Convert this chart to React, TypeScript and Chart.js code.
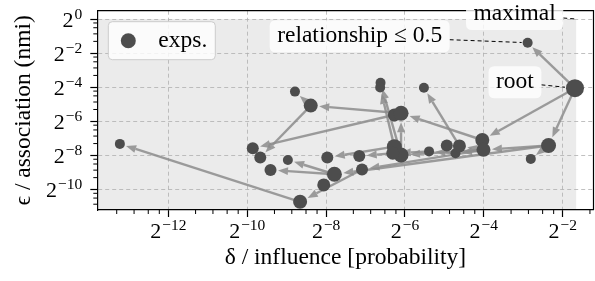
import React, { useEffect, useRef } from "react";
import { Chart, registerables } from "chart.js";

Chart.register(...registerables);

// ---- data (log2 coordinates) ----
const SERIES_LABEL = "exps.";
const DELTA_LOG2 = [
  -13.23, -9.86, -9.67, -9.41, -8.97, -8.79, -8.39, -8.66, -8.06, -7.97,
  -7.79, -7.16, -7.09, -6.62, -6.63, -6.27, -6.10, -6.27, -6.10, -6.31,
  -5.52, -5.39, -4.94, -4.72, -4.62, -4.04, -4.01, -2.36, -2.81, -1.69,
  -2.89,
];
const EPS_LOG2 = [
  -7.33, -7.58, -8.13, -8.86, -8.27, -4.26, -5.08, -10.73, -9.74, -8.13,
  -9.11, -8.04, -8.83, -3.74, -4.02, -5.63, -5.53, -7.49, -7.98, -7.88,
  -4.03, -7.77, -7.42, -7.88, -7.45, -7.10, -7.68, -7.42, -8.21, -4.06,
  -1.39,
];
const RADII = [
  5, 6, 6, 6, 5, 5, 7, 7, 6.5, 6,
  7.5, 6, 6, 5, 5, 6.5, 7.5, 7.5, 7.5, 6.5,
  5, 5, 6, 5, 6.5, 7, 7, 7.5, 5, 9,
  5,
];
// tree edges: parent -> child (indices into the arrays above)
const EDGE_FROM = [29, 29, 29, 27, 27, 27, 25, 26, 26, 24, 24, 26, 23, 18, 18, 16, 16, 16, 6, 6, 17, 18, 17, 10, 10, 10, 12, 7, 19, 26, 21];
const EDGE_TO = [30, 27, 25, 28, 26, 10, 16, 18, 24, 20, 22, 23, 21, 17, 16, 15, 6, 1, 5, 2, 14, 13, 9, 4, 3, 8, 7, 0, 11, 12, 19];

const X_TICK_EXP = [-12, -10, -8, -6, -4, -2];
const Y_TICK_EXP = [0, -2, -4, -6, -8, -10];
const MINOR_OFFSETS = [0.69, 1.13, 1.49, 1.77];
const X_RANGE_LOG2 = [-13.74, -1.22];
const Y_RANGE_LOG2 = [-11.21, 0.49];
const MAXIMAL_LOG2 = [-1.66, 0];
const ROOT_INDEX = 29;
const REL_INDEX = 30;
const X_TITLE = "δ / influence [probability]";
const Y_TITLE = "ϵ / association (nmi)";
const LABEL_ROOT = "root";
const LABEL_REL = "relationship ≤ 0.5";
const LABEL_MAX = "maximal";

const FONT = '"Liberation Serif", "DejaVu Serif", serif';
const TEXT_PX = 23.5;
const BASE_PX = 22;
const EXP_PX = 15.5;
const POINT_COLOR = "#4d4d4d";

function rrect(ctx: CanvasRenderingContext2D, x: number, y: number, w: number, h: number, r: number) {
  ctx.beginPath();
  ctx.moveTo(x + r, y);
  ctx.lineTo(x + w - r, y);
  ctx.quadraticCurveTo(x + w, y, x + w, y + r);
  ctx.lineTo(x + w, y + h - r);
  ctx.quadraticCurveTo(x + w, y + h, x + w - r, y + h);
  ctx.lineTo(x + r, y + h);
  ctx.quadraticCurveTo(x, y + h, x, y + h - r);
  ctx.lineTo(x, y + r);
  ctx.quadraticCurveTo(x, y, x + r, y);
  ctx.closePath();
}

function drawPow(ctx: CanvasRenderingContext2D, e: number, x: number, baseY: number, expY: number, align: "center" | "right") {
  const expStr = e < 0 ? "\u2212" + Math.abs(e) : String(e);
  ctx.font = `${BASE_PX}px ${FONT}`;
  const wb = ctx.measureText("2").width;
  ctx.font = `${EXP_PX}px ${FONT}`;
  const we = ctx.measureText(expStr).width;
  const total = wb + 1 + we;
  const left = align === "center" ? x - total / 2 : x - total;
  ctx.textAlign = "left";
  ctx.textBaseline = "alphabetic";
  ctx.font = `${BASE_PX}px ${FONT}`;
  ctx.fillText("2", left, baseY);
  ctx.font = `${EXP_PX}px ${FONT}`;
  ctx.fillText(expStr, left + wb + 1, expY);
}

const customPlugin = {
  id: "customDraw",
  beforeDraw(chart: any) {
    const { ctx, chartArea: a, scales } = chart;
    ctx.save();
    ctx.fillStyle = "#ffffff";
    ctx.fillRect(0, 0, chart.width, chart.height);
    const xr = scales.x.getPixelForValue(2 ** MAXIMAL_LOG2[0]);
    const yt = scales.y.getPixelForValue(2 ** MAXIMAL_LOG2[1]);
    ctx.fillStyle = "#ebebeb";
    ctx.fillRect(a.left, yt, xr - a.left, a.bottom - yt);
    ctx.restore();
  },
  beforeDatasetsDraw(chart: any) {
    const { ctx } = chart;
    const pts = chart.getDatasetMeta(0).data;
    ctx.save();
    ctx.strokeStyle = "rgba(140,140,140,0.85)";
    ctx.fillStyle = "rgba(140,140,140,0.85)";
    ctx.lineWidth = 2.4;
    for (let k = 0; k < EDGE_FROM.length; k++) {
      const p0 = pts[EDGE_FROM[k]];
      const p1 = pts[EDGE_TO[k]];
      const dx = p1.x - p0.x;
      const dy = p1.y - p0.y;
      const L = Math.hypot(dx, dy);
      if (L < 1) continue;
      const ux = dx / L;
      const uy = dy / L;
      const end = Math.max(L - RADII[EDGE_TO[k]] - 1.5, 2);
      const hl = Math.min(10, end * 0.7);
      const hw = 4;
      const tx = p0.x + ux * end;
      const ty = p0.y + uy * end;
      const bx = tx - ux * hl;
      const by = ty - uy * hl;
      ctx.beginPath();
      ctx.moveTo(p0.x, p0.y);
      ctx.lineTo(bx, by);
      ctx.stroke();
      ctx.beginPath();
      ctx.moveTo(tx, ty);
      ctx.lineTo(bx - uy * hw, by + ux * hw);
      ctx.lineTo(bx + uy * hw, by - ux * hw);
      ctx.closePath();
      ctx.fill();
    }
    ctx.restore();
  },
  afterDraw(chart: any) {
    const { ctx, chartArea: a, scales } = chart;
    const xs = scales.x;
    const ys = scales.y;
    ctx.save();
    // top/right spines
    ctx.strokeStyle = "#000";
    ctx.lineWidth = 1.2;
    ctx.beginPath();
    ctx.moveTo(a.left, a.top);
    ctx.lineTo(a.right, a.top);
    ctx.lineTo(a.right, a.bottom);
    ctx.stroke();
    // minor ticks
    ctx.lineWidth = 1;
    ctx.beginPath();
    for (let d = -16; d <= 2; d += 2) {
      for (const o of MINOR_OFFSETS) {
        const e = d + o;
        if (e > X_RANGE_LOG2[0] && e < X_RANGE_LOG2[1]) {
          const px = xs.getPixelForValue(2 ** e);
          ctx.moveTo(px, a.bottom);
          ctx.lineTo(px, a.bottom + 4);
        }
        if (e > Y_RANGE_LOG2[0] && e < Y_RANGE_LOG2[1]) {
          const py = ys.getPixelForValue(2 ** e);
          ctx.moveTo(a.left, py);
          ctx.lineTo(a.left - 4, py);
        }
      }
    }
    ctx.stroke();
    // tick labels
    ctx.fillStyle = "#000";
    for (const e of X_TICK_EXP) {
      const px = xs.getPixelForValue(2 ** e);
      drawPow(ctx, e, px, a.bottom + 28, a.bottom + 20, "center");
    }
    for (const e of Y_TICK_EXP) {
      const py = ys.getPixelForValue(2 ** e);
      drawPow(ctx, e, a.left - 15, py + 8, py - 0.5, "right");
    }
    // legend
    const lx = a.left + 11;
    const ly = a.top + 11;
    rrect(ctx, lx, ly, 107, 38, 4);
    ctx.fillStyle = "rgba(255,255,255,0.8)";
    ctx.fill();
    ctx.strokeStyle = "#cccccc";
    ctx.lineWidth = 1;
    ctx.stroke();
    ctx.fillStyle = POINT_COLOR;
    ctx.beginPath();
    ctx.arc(lx + 20, ly + 19, 7.5, 0, Math.PI * 2);
    ctx.fill();
    ctx.fillStyle = "#000";
    ctx.font = `${TEXT_PX}px ${FONT}`;
    ctx.textAlign = "left";
    ctx.textBaseline = "middle";
    ctx.fillText(chart.data.datasets[0].label, lx + 50, ly + 19);
    // annotations
    const pts = chart.getDatasetMeta(0).data;
    const notes = [
      { text: LABEL_MAX, tx: xs.getPixelForValue(2 ** MAXIMAL_LOG2[0]), ty: ys.getPixelForValue(2 ** MAXIMAL_LOG2[1]), r: 0, dx: -61.5, dy: -5 },
      { text: LABEL_REL, tx: pts[REL_INDEX].x, ty: pts[REL_INDEX].y, r: RADII[REL_INDEX], dx: -168, dy: -6.5 },
      { text: LABEL_ROOT, tx: pts[ROOT_INDEX].x, ty: pts[ROOT_INDEX].y, r: RADII[ROOT_INDEX], dx: -60, dy: -6 },
    ];
    for (const n of notes) {
      ctx.font = `${TEXT_PX}px ${FONT}`;
      const tw = ctx.measureText(n.text).width;
      const cx = n.tx + n.dx;
      const cy = n.ty + n.dy;
      const bw = tw + 15;
      const bh = 32;
      const bx0 = cx - bw / 2;
      const by0 = cy - bh / 2;
      // leader
      const ddx = n.tx - cx;
      const ddy = n.ty - cy;
      const L = Math.hypot(ddx, ddy);
      const ux = ddx / L;
      const uy = ddy / L;
      const tEdge = Math.min(Math.abs(bw / 2 / (ux || 1e-9)), Math.abs(bh / 2 / (uy || 1e-9)));
      const sx = cx + ux * tEdge;
      const sy = cy + uy * tEdge;
      const ex = n.tx - ux * (n.r + 1);
      const ey = n.ty - uy * (n.r + 1);
      ctx.strokeStyle = "#000";
      ctx.lineWidth = 1;
      ctx.setLineDash([4, 3]);
      ctx.beginPath();
      ctx.moveTo(sx, sy);
      ctx.lineTo(ex, ey);
      ctx.stroke();
      ctx.setLineDash([]);
      rrect(ctx, bx0, by0, bw, bh, 6);
      ctx.fillStyle = "rgba(255,255,255,0.8)";
      ctx.fill();
      ctx.fillStyle = "#000";
      ctx.textAlign = "center";
      ctx.textBaseline = "middle";
      ctx.fillText(n.text, cx, cy);
    }
    ctx.restore();
  },
};

export default function App() {
  const canvasRef = useRef<HTMLCanvasElement | null>(null);

  useEffect(() => {
    document.body.style.margin = "0";
    const canvas = canvasRef.current;
    if (!canvas) return;
    const points = DELTA_LOG2.map((d, i) => ({ x: 2 ** d, y: 2 ** EPS_LOG2[i] }));
    const titleFont = { family: FONT, size: TEXT_PX, lineHeight: 1.2 };
    const chart = new Chart(canvas, {
      type: "scatter",
      data: {
        datasets: [
          {
            label: SERIES_LABEL,
            data: points,
            pointRadius: RADII,
            pointHoverRadius: RADII,
            backgroundColor: POINT_COLOR,
            borderWidth: 0,
            clip: false,
          },
        ],
      },
      options: {
        responsive: false,
        maintainAspectRatio: false,
        devicePixelRatio: 1,
        animation: false,
        events: [],
        layout: { autoPadding: false, padding: { left: 0, top: 10.7, right: 1.5, bottom: 0 } },
        plugins: { legend: { display: false }, tooltip: { enabled: false } },
        scales: {
          x: {
            type: "logarithmic",
            position: "bottom",
            min: 2 ** X_RANGE_LOG2[0],
            max: 2 ** X_RANGE_LOG2[1],
            afterBuildTicks: (s: any) => {
              s.ticks = X_TICK_EXP.map((e) => ({ value: 2 ** e }));
            },
            afterFit: (s: any) => {
              s.height = 71;
              s.paddingLeft = 0;
              s.paddingRight = 0;
            },
            ticks: { display: false },
            grid: { color: "#b0b0b0", lineWidth: 0.8, drawTicks: true, tickLength: 7, tickColor: "#000", tickWidth: 1.2 },
            border: { display: true, color: "#000", width: 1.2, dash: [4, 3] },
            title: { display: true, text: X_TITLE, color: "#000", font: titleFont, padding: { top: 0, bottom: 9 } },
          },
          y: {
            type: "logarithmic",
            position: "left",
            min: 2 ** Y_RANGE_LOG2[0],
            max: 2 ** Y_RANGE_LOG2[1],
            afterBuildTicks: (s: any) => {
              s.ticks = Y_TICK_EXP.map((e) => ({ value: 2 ** e }));
            },
            afterFit: (s: any) => {
              s.width = 97.3;
              s.paddingTop = 0;
              s.paddingBottom = 0;
            },
            ticks: { display: false },
            grid: { color: "#b0b0b0", lineWidth: 0.8, drawTicks: true, tickLength: 7, tickColor: "#000", tickWidth: 1.2 },
            border: { display: true, color: "#000", width: 1.2, dash: [4, 3] },
            title: { display: true, text: Y_TITLE, color: "#000", font: titleFont, padding: { top: 10, bottom: 0 } },
          },
        },
      },
      plugins: [customPlugin],
    } as any);
    return () => chart.destroy();
  }, []);

  return (
    <div style={{ position: "absolute", left: 0, top: 0, width: 595, height: 281 }}>
      <canvas ref={canvasRef} width={595} height={281} style={{ display: "block", width: 595, height: 281 }} />
    </div>
  );
}
